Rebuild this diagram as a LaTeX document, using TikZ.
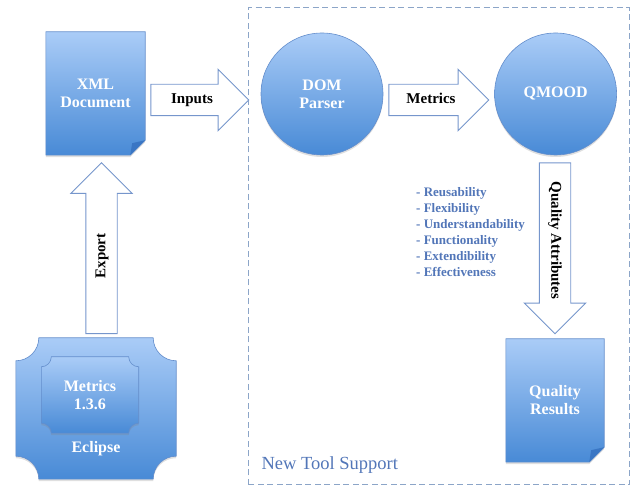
\documentclass[tikz,border=0pt]{standalone}
\usepackage{fontspec}
\setmainfont{Liberation Serif}
\usepackage{tikz}
\definecolor{bluetop}{RGB}{170,204,247}
\definecolor{bluebot}{RGB}{72,138,214}
\definecolor{blueedge}{RGB}{100,142,204}
\definecolor{bluefold}{RGB}{58,118,196}
\definecolor{arrowline}{RGB}{118,150,204}
\definecolor{listblue}{RGB}{82,118,184}
\definecolor{framegray}{RGB}{140,165,200}
\usetikzlibrary{shapes,arrows,positioning,shadows,backgrounds}

% page with a folded corner, drawn round an empty node
\newcommand{\docshape}[2]{%
  \path[#1] (#2.north west) -- (#2.north east) -- ([yshift=15pt]#2.south east)
    -- ([xshift=-15pt]#2.south east) -- (#2.south west) -- cycle;
  \fill[bluefold] ([yshift=15pt]#2.south east) -- ([xshift=-15pt]#2.south east)
    -- ([xshift=-13pt,yshift=12pt]#2.south east) -- cycle;}

% plaque with hollow corners, drawn round an empty node
\newcommand{\plaqueshape}[3]{%
  \path[#1] ([xshift=#3]#2.north west) -- ([xshift=-#3]#2.north east)
    arc[start angle=180, end angle=270, radius=#3]
    -- ([yshift=#3]#2.south east)
    arc[start angle=90, end angle=180, radius=#3]
    -- ([xshift=#3]#2.south west)
    arc[start angle=0, end angle=90, radius=#3]
    -- ([yshift=-#3]#2.north west)
    arc[start angle=270, end angle=360, radius=#3] -- cycle;}

\begin{document}
\begin{tikzpicture}[
    x=1pt, y=1pt,
    boxtext/.style={text=white, font=\fontsize{16}{18}\selectfont\bfseries, align=center},
    bluefill/.style={top color=bluetop, bottom color=bluebot, draw=blueedge, line width=0.6pt,
        drop shadow={opacity=0.25, shadow xshift=0pt, shadow yshift=-2pt}},
    bubble/.style={circle, minimum size=122pt, inner sep=0pt, bluefill, boxtext},
    docnode/.style={minimum width=99pt, minimum height=123pt, inner sep=0pt, boxtext},
    blockarrow/.style={single arrow, single arrow head extend=15pt, single arrow head indent=0pt,
        inner xsep=4pt, inner ysep=8pt, text height=11pt, text depth=3.5pt,
        fill=white, draw=arrowline, line width=0.9pt,
        font=\fontsize{15}{17}\selectfont\bfseries},
    listtext/.style={text=listblue, font=\fontsize{13}{16}\selectfont\bfseries, align=left, inner sep=0pt}
]
\useasboundingbox (0,0) rectangle (633,490);

% Documents and tools
\node[docnode] (xml) at (95.5,396.5) {XML\\Document};
\node[docnode, minimum width=98pt] (results) at (555,89.5) {Quality\\Results};
\node[minimum width=160pt, minimum height=141pt] (eclipse) at (96,81.5) {};
\node[minimum width=97pt, minimum height=76pt, boxtext] (metricsbox) at (90,95) {Metrics\\1.3.6};
\node[boxtext] (ecllabel) at (96,41) {Eclipse};

% Processing steps
\node[bubble] (dom) at (322,396) {DOM\\Parser};
\node[bubble, right=111pt of dom] (qmood) {QMOOD};

% Block arrows
\node[blockarrow, minimum height=98pt] (inputs) at (192,390) {Inputs};
\node[blockarrow, minimum height=100pt] (metrics) at (431,390) {Metrics};
\node[blockarrow, minimum height=171pt, rotate=-90] (quality) at (555,249.5) {Quality Attributes};
\node[blockarrow, minimum height=171pt, rotate=90] (export) at (101.5,234) {Export};

% Attribute list
\node[listtext, anchor=north west] (attrs) at (416,303) {- Reusability\\- Flexibility\\- Understandability\\- Functionality\\- Extendibility\\- Effectiveness};

\node[anchor=west, text=listblue, font=\fontsize{18.5}{20}\selectfont] (toolsupport) at (258,25) {New Tool Support};

\begin{scope}[on background layer]
\draw[framegray, line width=1pt, dash pattern=on 6pt off 3.5pt] (248,5) rectangle (629,482);
\docshape{bluefill}{xml}
\docshape{bluefill}{results}
\plaqueshape{bluefill}{eclipse}{23pt}
\plaqueshape{bluefill}{metricsbox}{10pt}
\end{scope}

\end{tikzpicture}
\end{document}
